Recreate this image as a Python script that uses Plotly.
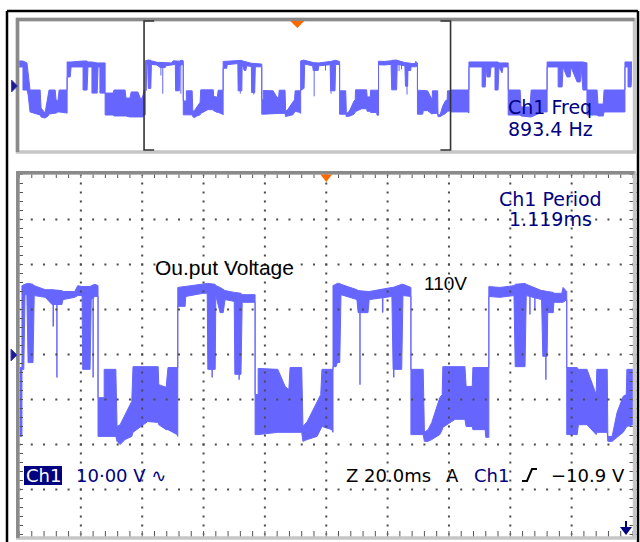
import numpy as np
import plotly.graph_objects as go

# ---------------- data ----------------
# time in horizontal divisions of the zoomed window, voltage in volts (10 V/div)
zoom_t = [0.00, 0.04, 0.04, 0.07, 0.09, 0.12, 0.14, 0.22, 0.24, 0.42, 0.53, 0.69, 0.71, 0.90, 0.95, 1.02, 1.03, 1.15, 1.17, 1.23, 1.28,
          1.28, 1.38, 1.38, 1.57, 1.59, 1.64, 1.72, 1.83, 1.85, 2.09, 2.26, 2.27, 2.39, 2.42, 2.57, 2.58,
          2.58, 2.70, 2.71, 2.99, 3.06, 3.07, 3.19, 3.20, 3.27, 3.32, 3.35, 3.50, 3.51, 3.61, 3.63, 3.84,
          3.84, 3.89, 3.89, 4.21, 4.33, 4.39, 4.41, 4.60, 4.62, 4.69, 4.85, 4.91, 4.93, 5.09, 5.11,
          5.11, 5.16, 5.18, 5.22, 5.24, 5.50, 5.52, 5.68, 5.70, 6.07, 6.09, 6.23, 6.25, 6.38,
          6.38, 6.58, 6.60, 6.66, 6.72, 6.85, 6.89, 6.90, 7.10, 7.26, 7.28, 7.38, 7.39, 7.59, 7.60, 7.65,
          7.65, 7.83, 8.06, 8.08, 8.24, 8.26, 8.51, 8.53, 8.60, 8.61, 8.70, 8.71, 8.84, 8.86, 8.92,
          8.92, 9.09, 9.11, 9.25, 9.40, 9.41, 9.58, 9.59, 9.66, 9.74, 9.84, 9.89, 9.90, 10.00]
zoom_hi = [-2.9, -2.9, 15.3, 15.6, 15.6, 15.8, 15.8, 15.6, 15.3, 14.4, 14.4, 14.2, 14.0, 14.0, 15.3, 15.1, 15.1, 15.1, 15.3, 15.6, 15.3,
           -9.6, -9.6, -3.3, -3.3, -16.0, -15.6, -13.3, -10.4, -2.7, -2.7, -2.7, -6.7, -7.3, -2.9, -2.9, -2.9,
           14.9, 15.1, 15.1, 15.6, 15.8, 15.8, 15.6, 15.3, 14.9, 14.4, 14.2, 13.8, 13.8, 13.6, 13.3, 13.3,
           -8.9, -8.9, -3.1, -3.3, -7.1, -7.8, -2.9, -2.9, -16.0, -14.9, -10.4, -8.9, -3.3, -3.3, -3.3,
           15.3, 15.6, 15.8, 15.8, 15.6, 14.4, 14.2, 14.0, 14.0, 14.9, 14.9, 15.6, 15.6, 14.9,
           -3.3, -3.3, -17.3, -16.7, -15.1, -9.6, -8.9, -2.7, -2.7, -2.7, -7.1, -7.1, -2.9, -2.9, -2.9, -2.9,
           15.1, 14.9, 15.3, 15.6, 15.8, 15.6, 14.2, 14.2, 14.0, 14.0, 13.8, 13.6, 13.6, 14.9, 14.0,
           -2.9, -2.9, -3.3, -3.3, -8.9, -3.3, -3.3, -18.2, -18.2, -12.9, -9.3, -8.9, -3.3, -3.3]
zoom_lo = [-18.2, -18.2, -3.3, -3.3, 13.3, 13.3, -1.8, -1.8, 13.1, 12.7, 11.1, 11.1, 12.2, 12.7, 13.1, 13.1, -3.3, -3.3, 12.2, 12.9, 12.9,
           -18.2, -18.2, -18.2, -18.2, -19.3, -20.0, -18.9, -18.2, -17.3, -14.9, -15.1, -15.6, -16.7, -16.7, -17.8, -18.2,
           10.7, 10.7, 12.9, 13.6, 13.6, -3.3, -3.3, 13.1, 9.3, 9.3, 12.2, 11.8, -4.4, -4.4, 11.6, 11.6,
           -17.8, -17.8, -17.8, -17.3, -17.3, -17.3, -17.3, -17.3, -19.3, -18.9, -18.2, -16.7, -16.0, -16.7, -17.3,
           -2.7, -2.7, -1.8, -1.8, 13.3, 12.2, 9.3, 9.3, 12.2, 12.9, -3.3, -3.3, 13.1, 12.9,
           -17.8, -17.8, -19.3, -19.3, -18.9, -17.8, -16.7, -16.2, -14.4, -14.4, -16.0, -16.0, -16.7, -16.7, -18.4, -18.4,
           12.9, 12.7, 13.1, -2.7, -2.7, 13.1, 12.2, -0.4, -0.4, 9.3, 9.3, 11.6, 11.6, 11.6, 12.2,
           -17.8, -17.8, -15.6, -15.6, -17.8, -17.3, -17.3, -19.3, -19.3, -18.4, -17.3, -16.2, -16.0, -15.6]

# thin single-sample glitches (time, top, bottom)
spike_t = [0.55, 0.61, 1.20, 3.14, 3.58, 5.55, 5.92, 6.10, 8.32, 8.40, 8.58]
spike_hi = [14.4, 14.2, 15.3, 15.6, 13.6, 14.0, 14.0, 14.9, 15.0, 14.8, 14.0]
spike_lo = [6.2, -5.1, -5.1, -5.1, -5.6, -6.7, 9.3, -5.1, 8.9, 10.0, -5.6]

# record outside the zoom window (overview only)
pre_t = [-4.08, -3.95, -3.95, -3.82, -3.78, -3.72, -3.39, -3.36, -3.23, -3.13, -3.10, -2.90, -2.87, -2.81, -2.77, -2.51,
         -2.51, -2.41, -2.38, -1.99, -1.99, -1.86, -1.83, -1.70, -1.70, -1.53, -1.50, -1.44, -1.44, -1.27,
         -1.27, -1.01, -0.98, -0.62, -0.59, -0.46, -0.42, -0.20, -0.10, -0.03]
pre_hi = [15.2, 15.2, 15.2, 14.0, 6.5, -2.8, -2.8, -14.0, -17.1, -5.9, -2.8, -2.8, -9.0, -9.6, -2.8, -2.8,
          14.6, 14.6, 14.6, 15.2, 15.2, 15.2, 14.6, 14.6, 14.6, 14.0, 14.0, 14.0, 14.0, 14.0,
          -4.7, -4.7, -2.8, -2.8, -7.8, -7.8, -4.0, -4.0, -9.0, -5.9]
pre_lo = [11.5, 11.5, -2.8, -2.8, -5.9, -16.4, -18.3, -19.5, -20.2, -18.9, -17.7, -17.1, -17.1, -16.4, -16.4, -17.1,
          5.3, 5.3, 11.5, 11.5, -2.8, -2.8, 11.5, 11.5, -4.7, -4.7, 11.5, 11.5, -4.7, -4.7,
          -18.3, -18.3, -18.9, -18.9, -18.9, -19.5, -19.5, -19.5, -19.5, -19.5]
post_t = [10.02, 10.57, 10.60, 10.60, 11.03, 11.03, 11.13, 11.16, 11.19, 11.29, 11.32, 11.45, 11.45, 11.55, 11.58, 11.68, 11.71, 11.88,
          11.88, 12.27, 12.30, 12.59, 12.63, 12.92, 12.95, 13.15,
          13.15, 13.51, 13.51, 13.64, 13.67, 13.80, 13.90, 13.93, 14.13, 14.23, 14.26, 14.32, 14.45,
          14.45, 14.78, 14.81, 14.98, 15.01, 15.63, 15.69,
          15.69, 15.79, 15.79, 15.89, 15.92]
post_hi = [-2.8, -2.8, -2.8, 14.6, 14.6, 14.6, 14.6, 14.6, 14.6, 14.6, 14.6, 14.6, 14.6, 14.6, 14.0, 14.0, 14.0, 14.0,
           -2.8, -2.8, -13.3, -13.3, -2.8, -2.8, -2.8, -2.8,
           14.6, 14.6, 14.6, 14.6, 14.6, 14.6, 14.6, 14.6, 14.6, 14.6, 14.6, 14.6, 14.0,
           -2.8, -2.8, -11.5, -11.5, -2.8, -2.8, -2.8,
           14.6, 14.6, 14.6, 14.6, 14.6]
post_lo = [-16.4, -16.4, -17.1, 11.5, 11.5, -0.9, -0.9, 11.5, 5.3, 5.3, 11.5, 11.5, -2.8, -2.8, 11.5, 7.8, 11.5, 11.5,
           -18.3, -18.3, -18.9, -19.5, -19.5, -17.1, -16.4, -16.4,
           11.5, 11.5, -0.9, -0.9, 11.5, 5.3, 5.3, 11.5, 2.2, 2.2, 11.5, -2.8, -2.8,
           -18.3, -18.3, -18.9, -18.9, -16.4, -16.4, -16.4,
           11.5, 11.5, -0.9, -0.9, 11.5]

trigger_t = 5.0
window_start, window_end = 0.0, 10.0
record_start, record_end = -4.08, 15.92
n_xdiv, n_ydiv, volts_per_div = 10, 8, 10

freq_text = ["Ch1 Freq", "893.4 Hz"]
period_text = ["Ch1 Period", "1.119ms"]
label_text = "Ou.put Voltage"
level_text = "110V"
ch_scale_text = "10·00 V ∿"
timebase_text = "Z 20.0ms"
trig_src_text = "Ch1"
trig_level_text = "−10.9 V"

# ---------------- styling ----------------
W, H = 640, 542
TRACE = "#6666FF"
NAVY = "#000080"
ORANGE = "#FF6A00"
TEK = "DejaVu Sans"
ARIAL = "Arial, Liberation Sans"


def PX(x):
    return x / W


def PY(y):
    return 1 - y / H


fig = go.Figure()


def band(t, hi, lo, xa, ya):
    fig.add_trace(go.Scatter(x=t, y=lo, mode="lines", line=dict(color=TRACE, width=1),
                             xaxis=xa, yaxis=ya, hoverinfo="skip", showlegend=False))
    fig.add_trace(go.Scatter(x=t, y=hi, mode="lines", fill="tonexty", fillcolor=TRACE,
                             line=dict(color=TRACE, width=1),
                             xaxis=xa, yaxis=ya, hoverinfo="skip", showlegend=False))


def spikes(xa, ya, w):
    xs, ys = [], []
    for t, h, l in zip(spike_t, spike_hi, spike_lo):
        xs += [t, t, None]
        ys += [h, l, None]
    fig.add_trace(go.Scatter(x=xs, y=ys, mode="lines", line=dict(color=TRACE, width=w),
                             xaxis=xa, yaxis=ya, hoverinfo="skip", showlegend=False))


# overview (whole record)
band(pre_t + zoom_t + post_t, pre_hi + zoom_hi + post_hi, pre_lo + zoom_lo + post_lo, "x2", "y2")
spikes("x2", "y2", 1)
# zoomed window
band(zoom_t, zoom_hi, zoom_lo, "x", "y")
spikes("x", "y", 1.5)

# graticule
ymax = n_ydiv / 2 * volts_per_div
gx = np.linspace(0, n_xdiv, n_xdiv * 5 + 1)
gy = np.linspace(-ymax, ymax, n_ydiv * 5 + 1)
dx, dy = [], []
for v in np.arange(-ymax + volts_per_div, ymax, volts_per_div):
    dx += list(gx)
    dy += [v] * len(gx)
for d in range(1, n_xdiv):
    dx += [d] * len(gy)
    dy += list(gy)
fig.add_trace(go.Scatter(x=dx, y=dy, mode="markers", xaxis="x", yaxis="y",
                         marker=dict(symbol="square", size=2, color="#4a4a4a", line=dict(width=0)),
                         hoverinfo="skip", showlegend=False))
fig.add_trace(go.Scatter(x=[0] * len(gy) + [n_xdiv] * len(gy), y=list(gy) * 2, mode="markers",
                         xaxis="x", yaxis="y", cliponaxis=False,
                         marker=dict(symbol="line-ew", size=5, line=dict(width=1, color="#555")),
                         hoverinfo="skip", showlegend=False))
fig.add_trace(go.Scatter(x=list(gx) * 2, y=[-ymax] * len(gx) + [ymax] * len(gx), mode="markers",
                         xaxis="x", yaxis="y", cliponaxis=False,
                         marker=dict(symbol="line-ns", size=5, line=dict(width=1, color="#555")),
                         hoverinfo="skip", showlegend=False))

shapes = []
# outer black frame
for (x0, y0, x1, y1) in [(7, 11, 7, 542), (7, 11, 638, 11), (638, 11, 638, 542)]:
    shapes.append(dict(type="line", xref="paper", yref="paper", x0=PX(x0), y0=PY(y0), x1=PX(x1), y1=PY(y1),
                       line=dict(color="black", width=2.5)))
# panel bevels
for (l, t, r, b) in [(17.5, 19.5, 634.5, 152), (17.8, 172.8, 634.5, 538)]:
    shapes.append(dict(type="rect", xref="paper", yref="paper", x0=PX(l), y0=PY(b), x1=PX(r), y1=PY(t),
                       line=dict(color="#c6c6c6", width=3.5)))
    shapes.append(dict(type="path", xref="paper", yref="paper",
                       path=f"M {PX(l)},{PY(b)} L {PX(l)},{PY(t)} L {PX(r)},{PY(t)}",
                       line=dict(color="#8a8a8a", width=3.5)))
# zoom-window bracket in overview
tick = 0.33
for (xa, xb) in [(window_start + tick, window_start), (window_end - tick, window_end)]:
    shapes.append(dict(type="path", xref="x2", yref="paper",
                       path=f"M {xa},{PY(21)} L {xb},{PY(21)} L {xb},{PY(150)} L {xa},{PY(150)}",
                       line=dict(color="#333", width=1.6)))
# trigger position markers
shapes.append(dict(type="path", xref="x2", yref="paper", fillcolor=ORANGE, line=dict(width=0),
                   path=f"M {trigger_t-0.23},{PY(21)} L {trigger_t+0.23},{PY(21)} L {trigger_t},{PY(28)} Z"))
shapes.append(dict(type="path", xref="x", yref="paper", fillcolor=ORANGE, line=dict(width=0),
                   path=f"M {trigger_t-0.095},{PY(174.5)} L {trigger_t+0.095},{PY(174.5)} L {trigger_t},{PY(182)} Z"))
# ground markers
shapes.append(dict(type="path", xref="paper", yref="paper", fillcolor="#1c1c90", line=dict(color="#4040c0", width=1),
                   path=f"M {PX(11.5)},{PY(80)} L {PX(17.5)},{PY(86)} L {PX(11.5)},{PY(92)} Z"))
shapes.append(dict(type="path", xref="paper", yref="paper", fillcolor="#1c1c90", line=dict(color="#4040c0", width=1),
                   path=f"M {PX(11)},{PY(349)} L {PX(17)},{PY(355)} L {PX(11)},{PY(361)} Z"))
# down arrow (bottom right)
shapes.append(dict(type="line", xref="paper", yref="paper", x0=PX(626), y0=PY(521), x1=PX(626), y1=PY(528),
                   line=dict(color=NAVY, width=2)))
shapes.append(dict(type="path", xref="paper", yref="paper", fillcolor=NAVY, line=dict(width=0),
                   path=f"M {PX(620)},{PY(527)} L {PX(632)},{PY(527)} L {PX(626)},{PY(535)} Z"))
# Ch1 badge
shapes.append(dict(type="rect", xref="paper", yref="paper", x0=PX(24), y0=PY(485), x1=PX(62), y1=PY(466),
                   fillcolor=NAVY, line=dict(width=0)))
# rising-edge trigger slope symbol
shapes.append(dict(type="path", xref="paper", yref="paper", line=dict(color="black", width=2),
                   path=f"M {PX(522)},{PY(481)} L {PX(527)},{PY(481)} L {PX(532)},{PY(469)} L {PX(537)},{PY(469)}"))

ann = []


def text(s, x, y, size, color, family=TEK, xanchor="center"):
    ann.append(dict(text=s, x=PX(x), y=PY(y), xref="paper", yref="paper", showarrow=False,
                    xanchor=xanchor, yanchor="middle", font=dict(size=size, color=color, family=family)))


text(freq_text[0], 550, 107, 19, NAVY)
text(freq_text[1], 550, 128.5, 19, NAVY)
text(period_text[0], 550, 198.5, 19, NAVY)
text(period_text[1], 550, 218.5, 19, NAVY)
text(label_text, 153, 267.5, 21, "black", ARIAL, "left")
text(level_text, 422, 283.5, 19, "black", ARIAL, "left")
text("Ch1", 43, 475.5, 18, "white")
text(ch_scale_text, 74, 475, 18, NAVY, TEK, "left")
text(timebase_text, 344, 475, 18, "black", TEK, "left")
text("A", 444, 475, 18, "black", TEK, "left")
text(trig_src_text, 472, 475, 18, NAVY, TEK, "left")
text(trig_level_text, 549, 475, 18, "black", TEK, "left")

ax = dict(visible=False, showgrid=False, zeroline=False, fixedrange=True)
fig.update_layout(
    width=W, height=H, margin=dict(l=0, r=0, t=0, b=0),
    paper_bgcolor="white", plot_bgcolor="rgba(0,0,0,0)", showlegend=False,
    xaxis=dict(domain=[19.5 / W, 633 / W], range=[window_start, window_end], anchor="y", **ax),
    yaxis=dict(domain=[1 - 534.5 / H, 1 - 174.5 / H], range=[-ymax, ymax], anchor="x", **ax),
    xaxis2=dict(domain=[19 / W, 632 / W], range=[record_start, record_end], anchor="y2", **ax),
    yaxis2=dict(domain=[1 - 150 / H, 1 - 21 / H], range=[-ymax, ymax], anchor="x2", **ax),
    shapes=shapes, annotations=ann,
)
fig.write_html("out.html", config={"displayModeBar": False},
               post_script="document.body.style.margin='0';document.body.style.overflow='hidden';")
